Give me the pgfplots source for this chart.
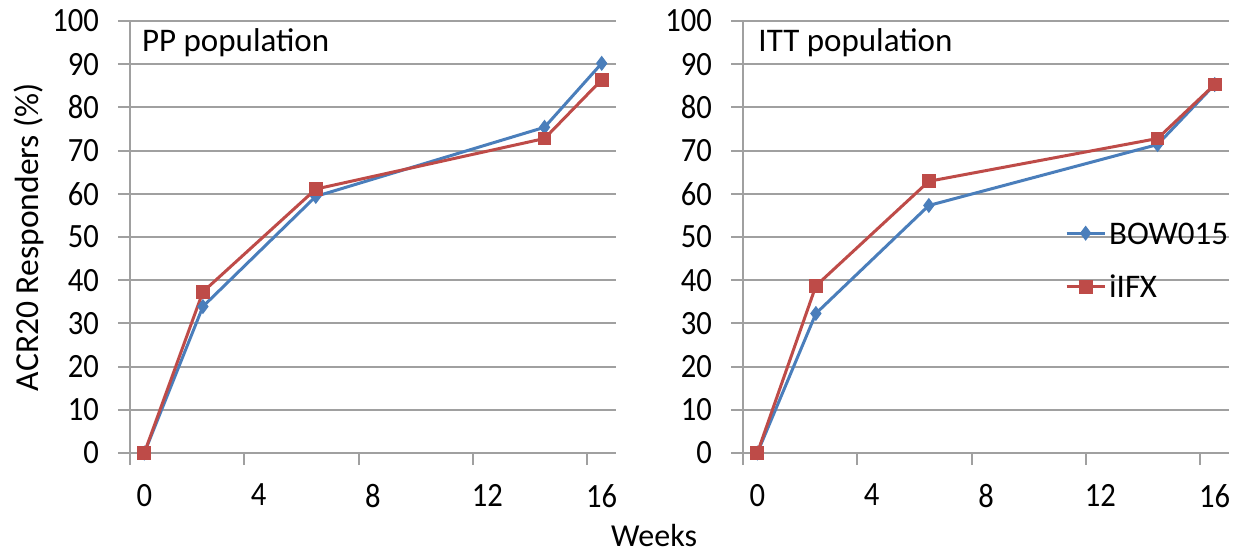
\documentclass[border=0pt]{standalone}
\usepackage{pgfplots}
\pgfplotsset{compat=1.18}
\usepackage{fontspec}
\setmainfont{Carlito}
\newfontfamily\tickfont{Carlito}[FakeStretch=0.9]
\definecolor{bow}{RGB}{74,126,187}
\definecolor{ifx}{RGB}{190,75,72}
\definecolor{gridc}{RGB}{160,160,160}

\pgfplotsset{
  panel/.style={
    scale only axis, width=243pt, height=216pt,
    xmin=-0.5, xmax=16.5, ymin=0, ymax=100,
    axis x line*=bottom, axis y line*=left,
    axis line style={draw=gridc, line width=1pt, -},
    xtick={-0.5,3.5,7.5,11.5,15.5}, xticklabels={},
    extra x ticks={0,4,8,12,16},
    extra x tick style={major tick length=0pt, grid=none},
    ytick={0,10,...,100},
    ymajorgrids, grid style={draw=gridc, line width=1pt},
    tick style={draw=gridc, line width=1pt},
    tick align=outside, major tick length=6pt,
    xticklabel style={yshift=-12pt},
    yticklabel style={xshift=-6pt},
    tick label style={font=\tickfont\fontsize{17}{20}\selectfont},
    /pgf/number format/assume math mode=true,
    clip=false,
    every axis plot/.append style={line width=1.5pt},
  },
  bowst/.style={color=bow, mark=diamond*, mark size=3.4pt, mark options={solid, fill=bow, line width=0.5pt}},
  ifxst/.style={color=ifx, mark=square*, mark size=3.2pt, mark options={solid, fill=ifx, line width=0.5pt}},
}

\begin{document}
\begin{tikzpicture}
\path[use as bounding box] (-65pt,-50.5pt) rectangle (552pt,226.5pt);

\begin{axis}[panel, at={(0pt,0pt)}, anchor=south west]
\addplot[bowst] coordinates {(0,0) (2.05,33.9) (6,59.4) (14,75.4) (16,90.2)};
\addplot[ifxst] coordinates {(0,0) (2.05,37.3) (6,61.1) (14,72.8) (16,86.4)};
\node[anchor=base west, inner sep=0pt, font=\fontsize{16.5}{19}\selectfont] at (rel axis cs:0.024,0.929) {PP population};
\end{axis}

\begin{axis}[panel, at={(306.5pt,0pt)}, anchor=south west,
  legend style={at={(rel axis cs:0.662,0.447)}, anchor=west, draw=none, fill=none,
    inner sep=0pt, row sep=15.7pt, column sep=1.5pt,
    nodes={inner sep=0pt, text height=11pt, text depth=0pt},
    font=\fontsize{16.5}{19}\selectfont},
  legend cell align=left,
  legend image code/.code={\draw[mark repeat=2,mark phase=2] plot coordinates {(0pt,0pt) (9.5pt,0pt) (19pt,0pt)};}]
\addplot[bowst] coordinates {(0,0) (2.05,32.3) (6,57.3) (14,71.4) (16,85.3)};
\addlegendentry{BOW015}
\addplot[ifxst] coordinates {(0,0) (2.05,38.7) (6,62.9) (14,72.8) (16,85.3)};
\addlegendentry{iIFX}
\node[anchor=base west, inner sep=0pt, font=\fontsize{16.5}{19}\selectfont] at (rel axis cs:0.031,0.929) {ITT population};
\end{axis}

\node[rotate=90, anchor=base, font=\fontsize{16.8}{19}\selectfont] at (-46pt,108pt) {ACR20 Responders (\%)};
\node[anchor=base, font=\fontsize{16}{19}\selectfont] at (262pt,-46.5pt) {Weeks};
\end{tikzpicture}
\end{document}
